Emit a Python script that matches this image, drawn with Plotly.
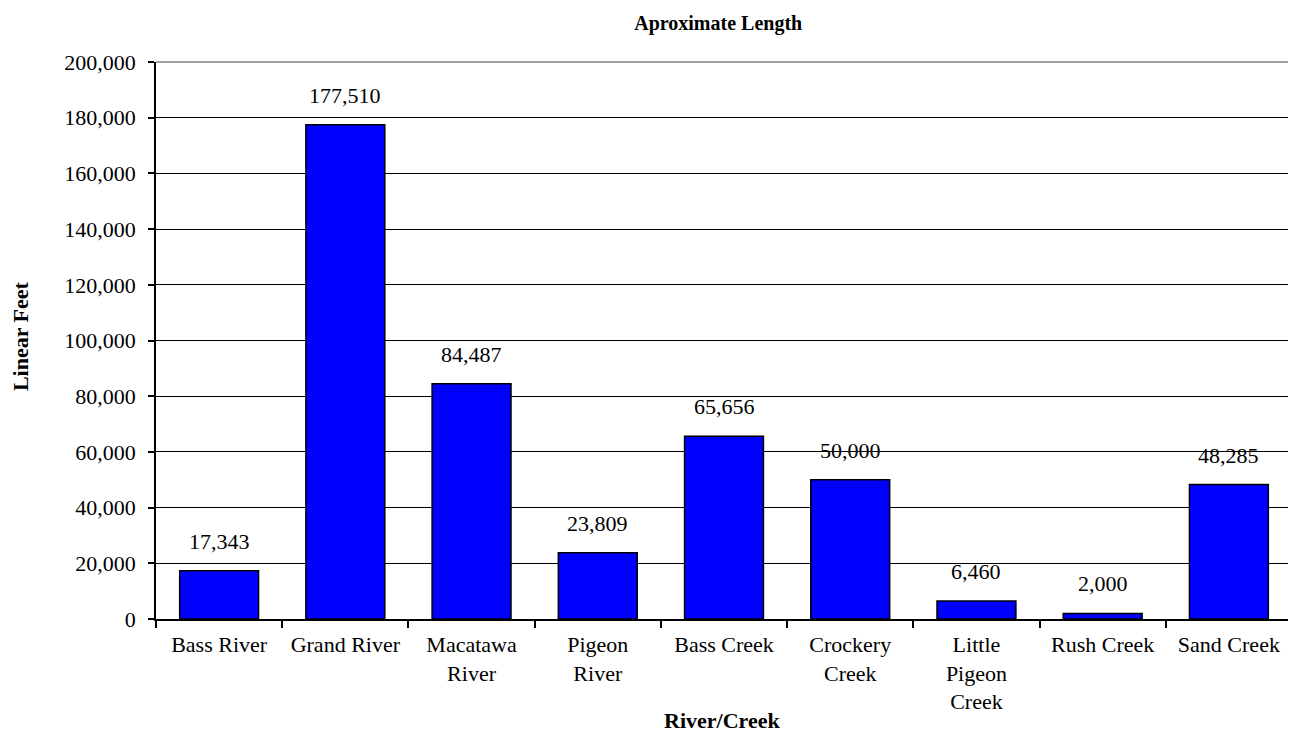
import plotly.graph_objects as go

categories = ["Bass River", "Grand River", "Macatawa<br>River", "Pigeon<br>River",
              "Bass Creek", "Crockery<br>Creek", "Little<br>Pigeon<br>Creek",
              "Rush Creek", "Sand Creek"]
values = [17343, 177510, 84487, 23809, 65656, 50000, 6460, 2000, 48285]
tick_vals = list(range(0, 200001, 20000))
tick_text = [f"{v:,}" for v in tick_vals]

FONT = "Liberation Serif, Times New Roman, serif"
FS = 22

fig = go.Figure(go.Bar(
    x=categories, y=values,
    marker=dict(color="#0000FF", line=dict(color="black", width=1.5)),
    width=0.625,
    hoverinfo="x+y",
))

for c, v in zip(categories, values):
    fig.add_annotation(x=c, y=v, text=f"{v:,}", showarrow=False,
                       xanchor="center", yanchor="bottom", yshift=15,
                       font=dict(family=FONT, size=FS, color="black"))

# axis titles placed as annotations for precise positioning
fig.add_annotation(xref="paper", yref="paper", x=0.498, y=-0.183,
                   text="<b>River/Creek</b>", showarrow=False,
                   xanchor="center", yanchor="middle",
                   font=dict(family=FONT, size=22, color="black"))
fig.add_annotation(xref="paper", yref="paper", x=-0.1197, y=0.508,
                   text="<b>Linear Feet</b>", showarrow=False, textangle=-90,
                   xanchor="center", yanchor="middle",
                   font=dict(family=FONT, size=22, color="black"))

fig.update_layout(
    width=1296, height=734,
    margin=dict(l=148, r=12, t=54, b=123, autoexpand=False),
    paper_bgcolor="white", plot_bgcolor="white",
    font=dict(family=FONT, size=FS, color="black"),
    title=dict(text="<b>Aproximate Length</b>", x=0.548, xanchor="center",
               xref="container", y=0.98, yanchor="middle",
               font=dict(family=FONT, size=20)),
    showlegend=False,
    xaxis=dict(
        tickson="boundaries", ticks="outside", ticklen=7, tickcolor="black",
        tickwidth=1.5,
        showline=True, linecolor="black", linewidth=1.5,
        tickfont=dict(family=FONT, size=FS),
        ticklabelstandoff=5,
        showgrid=False, automargin=False,
    ),
    yaxis=dict(
        range=[0, 200000], tickvals=tick_vals, ticktext=tick_text,
        ticks="outside", ticklen=6, tickcolor="black", tickwidth=1.5,
        showline=True, linecolor="black", linewidth=1.5,
        showgrid=True, gridcolor="black", gridwidth=1,
        tickfont=dict(family=FONT, size=FS),
        ticklabelstandoff=8,
        zeroline=False, automargin=False,
    ),
)

fig.add_shape(type="line", xref="paper", yref="paper", x0=0, x1=1, y0=1, y1=1,
              line=dict(color="gray", width=1.5))
fig.add_shape(type="line", xref="paper", yref="paper", x0=1, x1=1, y0=0, y1=1,
              line=dict(color="gray", width=1.5))

fig.write_html("out.html")
